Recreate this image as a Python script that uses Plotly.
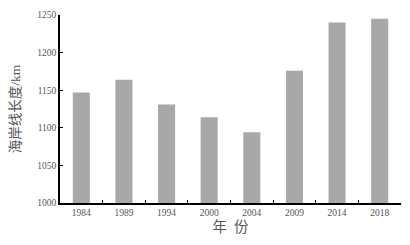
import plotly.graph_objects as go

years = ["1984", "1989", "1994", "2000", "2004", "2009", "2014", "2018"]
lengths = [1147, 1164, 1131, 1114, 1094, 1176, 1240, 1245]

font_fam = "Liberation Serif, Noto Sans CJK SC, serif"

# page body has an 8px default margin; compensate in figure size/margins
fig = go.Figure(go.Bar(x=years, y=lengths, marker=dict(color="#a8a8a8", line=dict(width=0))))
fig.update_layout(
    width=402, height=237,
    margin=dict(l=52, r=9, t=7, b=42),
    paper_bgcolor="white", plot_bgcolor="white",
    bargap=0.6, showlegend=False,
    font=dict(family=font_fam, size=9, color="#555"),
)
fig.update_xaxes(
    type="category", showline=True, linecolor="black", linewidth=1.5,
    ticks="inside", ticklen=3, tickcolor="black", tickson="boundaries",
    showgrid=False, tickfont=dict(size=9.5, color="#555"), automargin=False,
    title=dict(text="年  份", font=dict(size=14.5, color="#555"), standoff=5),
)
fig.update_yaxes(
    range=[1000, 1250], dtick=50, showline=True, linecolor="black", linewidth=1.5,
    ticks="inside", ticklen=3, tickcolor="black", showgrid=False, zeroline=False,
    tickfont=dict(size=9.5, color="#555"), automargin=False,
    title=dict(text="海岸线长度/km", font=dict(size=13.5, color="#555"), standoff=14),
)
fig.write_html("out.html")
